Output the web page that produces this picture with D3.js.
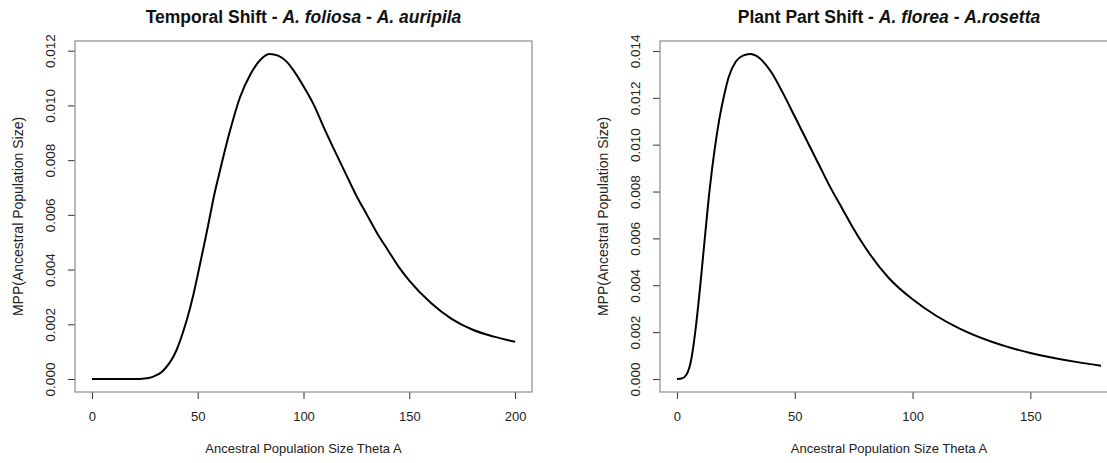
<!DOCTYPE html>
<html>
<head>
<meta charset="utf-8">
<script src="https://cdn.jsdelivr.net/npm/d3@7"></script>
<style>
	body { margin: 0; background: #fff; }
	svg { font-family: "Liberation Sans", Arial, sans-serif; }
</style>
</head>
<body>
<svg id="chart" width="1107" height="463"></svg>
<script>
// left panel: temporal shift
var thetaA = [0, 5, 10, 15, 20, 25, 28, 30, 33, 35, 38, 40, 43, 45, 48, 50, 53, 55, 58, 60, 65, 70, 75, 80, 84, 88, 92, 96, 100, 105, 109, 115, 120, 125, 130, 135, 140, 145, 150, 160, 170, 180, 190, 200];
var mppA = [0, 0, 0, 0, 0, 0.00002, 0.00006, 0.00012, 0.00026, 0.00042, 0.00075, 0.00106, 0.0017, 0.0022, 0.0031, 0.0038, 0.0049, 0.00565, 0.0068, 0.00745, 0.0090, 0.0103, 0.01115, 0.0117, 0.01188, 0.01182, 0.0116, 0.0112, 0.0107, 0.0100, 0.0093, 0.0083, 0.0075, 0.0067, 0.0060, 0.0053, 0.0047, 0.0041, 0.0036, 0.0028, 0.0022, 0.0018, 0.00155, 0.00136];
var xTicksA = [0, 50, 100, 150, 200];
var yTicksA = [0, 0.002, 0.004, 0.006, 0.008, 0.010, 0.012];

// right panel: plant part shift
var thetaB = [0, 2, 4, 6, 8, 10, 12, 14, 16, 18, 20, 22, 25, 28, 31, 35, 40, 45, 50, 55, 60, 65, 70, 75, 80, 90, 100, 110, 120, 133, 140, 150, 160, 170, 180];
var mppB = [0, 0.00002, 0.00018, 0.0008, 0.0022, 0.0041, 0.0062, 0.0082, 0.0098, 0.0111, 0.0121, 0.0129, 0.01355, 0.0138, 0.01387, 0.0137, 0.0131, 0.0122, 0.0112, 0.0102, 0.0092, 0.0082, 0.0073, 0.0064, 0.0056, 0.0043, 0.0034, 0.0027, 0.00215, 0.00161, 0.00138, 0.00111, 0.0009, 0.00072, 0.00057];
var xTicksB = [0, 50, 100, 150];
var yTicksB = [0, 0.002, 0.004, 0.006, 0.008, 0.010, 0.012, 0.014];

var svg = d3.select("#chart");

var panel = function (o) {
	var g = svg.append("g");
	var left = o.left, right = o.right, top = 41, bottom = 392;

	// R style 4% padding on each side
	var pad = function (lo, hi) {
		var d = (hi - lo) * 0.04;
		return [lo - d, hi + d];
	};
	var x = d3.scaleLinear().domain(pad(d3.min(o.xs), d3.max(o.xs))).range([left, right]);
	var y = d3.scaleLinear().domain(pad(0, d3.max(o.ys))).range([bottom, top]);

	var xAxis = d3.axisBottom(x).tickValues(o.xTicks).tickSize(7).tickPadding(13).tickFormat(d3.format("d"));
	var yAxis = d3.axisLeft(y).tickValues(o.yTicks).tickSize(7).tickPadding(0).tickFormat(d3.format(".3f"));

	var gx = g.append("g").attr("transform", "translate(0," + bottom + ")").call(xAxis);
	gx.select(".domain").remove();
	gx.selectAll("line").attr("stroke", "#333");
	gx.selectAll("text").attr("font-size", 13).attr("fill", "#222").attr("font-family", null);

	var gy = g.append("g").attr("transform", "translate(" + left + ",0)").call(yAxis);
	gy.select(".domain").remove();
	gy.selectAll("line").attr("stroke", "#333");
	// tick groups are already translated, so only shift and turn the label
	gy.selectAll("text")
		.attr("font-size", 13.5).attr("fill", "#222").attr("font-family", null)
		.attr("x", null).attr("dy", null)
		.attr("text-anchor", "middle")
		.attr("transform", "translate(-20,0) rotate(-90)");

	g.append("rect")
		.attr("x", left).attr("y", top)
		.attr("width", right - left).attr("height", bottom - top)
		.attr("fill", "none").attr("stroke", "#8c8c8c").attr("stroke-width", 1.2);

	var line = d3.line()
		.x(function (d, i) { return x(o.xs[i]); })
		.y(function (d) { return y(d); })
		.curve(d3.curveMonotoneX);

	g.append("path")
		.datum(o.ys)
		.attr("d", line)
		.attr("fill", "none")
		.attr("stroke", "#000")
		.attr("stroke-width", 2);

	var t = g.append("text")
		.attr("x", (left + right) / 2).attr("y", 23)
		.attr("text-anchor", "middle")
		.attr("font-size", 17.5).attr("font-weight", "bold").attr("fill", "#111");
	o.title.forEach(function (p) {
		t.append("tspan").attr("font-style", p[1] ? "italic" : "normal").text(p[0]);
	});

	g.append("text")
		.attr("x", (left + right) / 2).attr("y", 453)
		.attr("text-anchor", "middle")
		.attr("font-size", 13).attr("fill", "#222")
		.text("Ancestral Population Size Theta A");

	g.append("text")
		.attr("transform", "translate(" + (left - 52) + "," + ((top + bottom) / 2) + ") rotate(-90)")
		.attr("text-anchor", "middle")
		.attr("font-size", 14).attr("fill", "#222")
		.text("MPP(Ancestral Population Size)");
};

panel({
	left: 75, right: 532,
	xs: thetaA, ys: mppA, xTicks: xTicksA, yTicks: yTicksA,
	title: [["Temporal Shift - ", false], ["A. foliosa", true], [" - ", false], ["A. auripila", true]]
});

panel({
	left: 660, right: 1118,
	xs: thetaB, ys: mppB, xTicks: xTicksB, yTicks: yTicksB,
	title: [["Plant Part Shift - ", false], ["A. florea", true], [" - ", false], ["A.rosetta", true]]
});
</script>
</body>
</html>
